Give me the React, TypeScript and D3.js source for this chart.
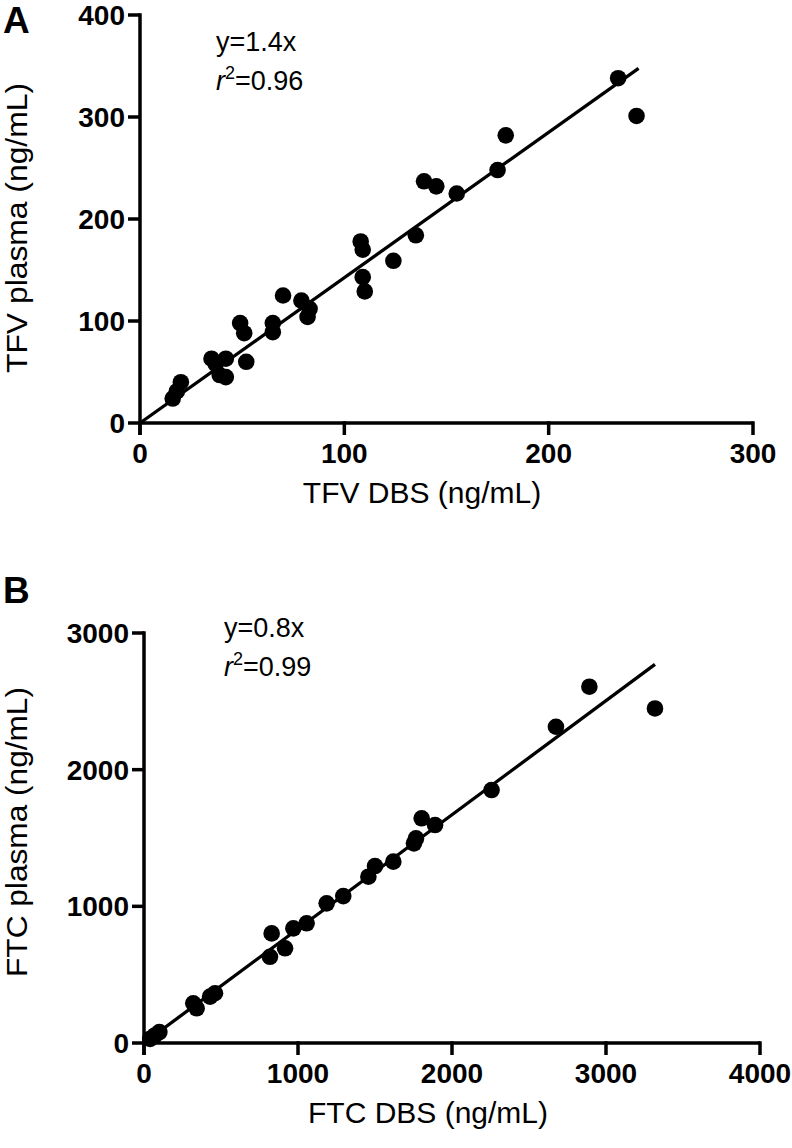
import React from "react";
import * as d3 from "d3";

// Panel A: TFV
const tfvDbs = [16, 18, 20, 35, 37, 39, 42, 42, 49, 51, 52, 65, 65, 70, 79, 82, 83, 108, 109, 109, 110, 124, 135, 139, 145, 155, 175, 179, 234, 243];
const tfvPlasma = [24, 31, 40, 63, 58, 47, 45, 63, 98, 88, 60, 98, 89, 125, 120, 104, 112, 178, 170, 143, 129, 159, 184, 237, 232, 225, 248, 282, 338, 301];
const tfvXTicks = [0, 100, 200, 300];
const tfvYTicks = [0, 100, 200, 300, 400];
const tfvSlope = 1.425;
const tfvLineEnd = 244;

// Panel B: FTC
const ftcDbs = [40, 70, 100, 320, 342, 429, 461, 818, 829, 916, 970, 1056, 1186, 1294, 1457, 1500, 1619, 1753, 1766, 1803, 1890, 2257, 2675, 2892, 3318];
const ftcPlasma = [30, 55, 80, 290, 254, 339, 364, 631, 802, 693, 839, 876, 1022, 1075, 1217, 1295, 1327, 1461, 1497, 1644, 1595, 1851, 2314, 2607, 2448];
const ftcXTicks = [0, 1000, 2000, 3000, 4000];
const ftcYTicks = [0, 1000, 2000, 3000];
const ftcSlope = 0.835;
const ftcLineEnd = 3318;

const FONT = "'Liberation Sans', Arial, sans-serif";

type PanelProps = {
  letter: string;
  letterY: number;
  xs: number[];
  ys: number[];
  xTicks: number[];
  yTicks: number[];
  xRange: [number, number];
  yRange: [number, number];
  slope: number;
  lineEnd: number;
  xTitle: string;
  yTitle: string;
  xTitleX: number;
  yTitleY: number;
  eq: string;
  r2: string;
  eqX: number;
  eqY: number;
};

function Panel(p: PanelProps) {
  const x = d3.scaleLinear().domain([p.xTicks[0], p.xTicks[p.xTicks.length - 1]]).range(p.xRange);
  const y = d3.scaleLinear().domain([p.yTicks[0], p.yTicks[p.yTicks.length - 1]]).range(p.yRange);
  const line = d3.line<number>().x((d) => x(d)).y((d) => y(d * p.slope));
  const x0 = p.xRange[0];
  const y0 = p.yRange[0];
  const tickLen = 12;
  const sw = 3.5;
  return (
    <g fontFamily={FONT}>
      <text x={3} y={p.letterY} fontSize={37} fontWeight="bold">{p.letter}</text>
      {/* axes */}
      <line x1={x0} x2={p.xRange[1]} y1={y0} y2={y0} stroke="#000" strokeWidth={sw} />
      <line x1={x0} x2={x0} y1={y0 + tickLen} y2={p.yRange[1] - sw / 2} stroke="#000" strokeWidth={sw} />
      {p.xTicks.map((t) => (
        <g key={"x" + t}>
          <line x1={x(t)} x2={x(t)} y1={y0 - sw / 2} y2={y0 + tickLen} stroke="#000" strokeWidth={sw} />
          <text x={x(t)} y={y0 + 40} fontSize={28} fontWeight="bold" textAnchor="middle">{t}</text>
        </g>
      ))}
      {p.yTicks.map((t) => (
        <g key={"y" + t}>
          <line x1={x0 - tickLen} x2={x0} y1={y(t)} y2={y(t)} stroke="#000" strokeWidth={sw} />
          <text x={x0 - tickLen - 3} y={y(t) + 10} fontSize={28} fontWeight="bold" textAnchor="end">{t}</text>
        </g>
      ))}
      <text x={p.xTitleX} y={y0 + 80} fontSize={30} textAnchor="middle">{p.xTitle}</text>
      <text
        transform={`translate(${27},${p.yTitleY}) rotate(-90)`}
        fontSize={30}
        textAnchor="middle"
        textLength={290}
        lengthAdjust="spacingAndGlyphs"
      >
        {p.yTitle}
      </text>
      {/* regression line */}
      <path d={line([0, p.lineEnd]) || ""} fill="none" stroke="#000" strokeWidth={3.3} />
      {p.xs.map((v, i) => (
        <circle key={i} cx={x(v)} cy={y(p.ys[i])} r={8.3} fill="#000" />
      ))}
      <text x={p.eqX} y={p.eqY} fontSize={27}>{p.eq}</text>
      <text x={p.eqX} y={p.eqY + 39} fontSize={27}>
        <tspan fontStyle="italic">r</tspan>
        <tspan dy={-11} fontSize={18}>2</tspan>
        <tspan dy={11}>{p.r2}</tspan>
      </text>
    </g>
  );
}

export default function App() {
  return (
    <svg width={792} height={1148} style={{ position: "absolute", left: 0, top: 0, background: "#fff" }}>
      <rect width={792} height={1148} fill="#fff" />
      <Panel
        letter="A"
        letterY={33}
        xs={tfvDbs}
        ys={tfvPlasma}
        xTicks={tfvXTicks}
        yTicks={tfvYTicks}
        xRange={[140, 753]}
        yRange={[423, 15]}
        slope={tfvSlope}
        lineEnd={tfvLineEnd}
        xTitle="TFV DBS (ng/mL)"
        yTitle="TFV plasma (ng/mL)"
        xTitleX={422}
        yTitleY={228}
        eq="y=1.4x"
        r2="=0.96"
        eqX={216}
        eqY={51}
      />
      <Panel
        letter="B"
        letterY={603}
        xs={ftcDbs}
        ys={ftcPlasma}
        xTicks={ftcXTicks}
        yTicks={ftcYTicks}
        xRange={[144, 760]}
        yRange={[1043, 633]}
        slope={ftcSlope}
        lineEnd={ftcLineEnd}
        xTitle="FTC DBS (ng/mL)"
        yTitle="FTC plasma (ng/mL)"
        xTitleX={428}
        yTitleY={832}
        eq="y=0.8x"
        r2="=0.99"
        eqX={224}
        eqY={637}
      />
    </svg>
  );
}
